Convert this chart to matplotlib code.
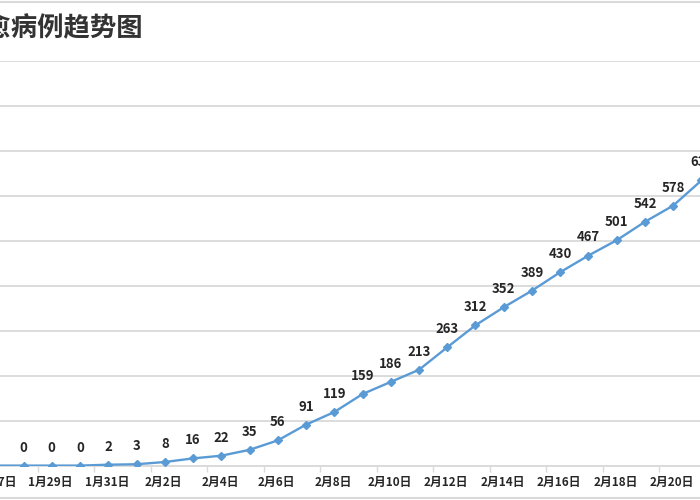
import matplotlib
matplotlib.use("Agg")
import matplotlib.pyplot as plt
from matplotlib.patches import Rectangle

plt.rcParams['font.family'] = ['Noto Sans CJK SC', 'DejaVu Sans']

title = "治愈病例趋势图"
dates = ["1月27日", "1月28日", "1月29日", "1月30日", "1月31日", "2月1日", "2月2日",
         "2月3日", "2月4日", "2月5日", "2月6日", "2月7日", "2月8日", "2月9日",
         "2月10日", "2月11日", "2月12日", "2月13日", "2月14日", "2月15日", "2月16日",
         "2月17日", "2月18日", "2月19日", "2月20日", "2月21日"]
values = [0, 0, 0, 0, 2, 3, 8, 16, 22, 35, 56, 91, 119, 159, 186, 213, 263, 312,
          352, 389, 430, 467, 501, 542, 578, 634]
y_max = 900
y_step = 100

fig = plt.figure(figsize=(7, 5), dpi=100)
ax = fig.add_axes([0.0, 0.0688, 1.0, 0.8098])

x = list(range(len(values)))
blue = '#5b9bd5'
ax.plot(x, values, color=blue, lw=1.7, marker='D', markersize=4.5, zorder=3)

for xi, v in zip(x, values):
    ax.annotate(str(v), (xi, v), xytext=(0, 13), textcoords='offset points',
                ha='center', va='center', fontsize=9.5, fontweight='bold',
                color='#262626', annotation_clip=False)

ax.set_yticks(range(0, y_max + 1, y_step))
ax.yaxis.grid(True, color='#d9d9d9', lw=1.3)
ax.set_axisbelow(True)
ax.tick_params(axis='y', length=0, labelleft=False)

label_idx = list(range(0, len(dates), 2))
ax.set_xticks([i - 0.5 for i in label_idx])
ax.set_xticklabels([''] * len(label_idx))
ax.tick_params(axis='x', which='major', length=4, color='#d9d9d9', width=1)
for i in label_idx:
    ax.annotate(dates[i], xy=(i, 0), xycoords=('data', 'axes fraction'),
                xytext=(-1, -12.3), textcoords='offset points',
                ha='center', va='center', fontsize=8.5, fontweight='bold',
                color='#262626', annotation_clip=False)

ax.set_xlim(0.168, 24.947)
ax.set_ylim(0, y_max)

for s in ['top', 'left', 'right']:
    ax.spines[s].set_visible(False)
ax.spines['bottom'].set_color('#d9d9d9')
ax.spines['bottom'].set_linewidth(1.3)

fig.text(143 / 700, 1 - 29 / 500, title, ha='right', va='center',
         fontsize=19, color='#333333', fontweight='bold')

fig.patches.append(Rectangle((-0.05, 0.004), 1.1, 0.993, transform=fig.transFigure,
                             fill=False, edgecolor='#d9d9d9', lw=1.5))

fig.savefig('out.png', dpi=100)
